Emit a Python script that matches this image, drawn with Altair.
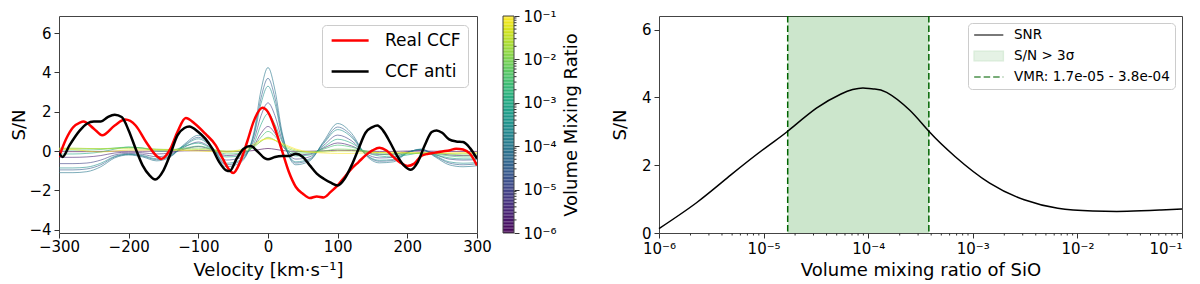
import altair as alt
import numpy as np
import pandas as pd

# ---------------- Left panel data ----------------
grid_v = [-300, -280, -260, -240, -220, -200, -180, -160, -140, -120, -100, -80, -60, -40, -20, -10,
          0, 10, 20, 40, 60, 80, 100, 120, 140, 160, 180, 200, 220, 240, 260, 280, 300]

model_vmr = [1e-6, 3e-6, 1e-5, 3e-5, 1e-4, 3e-4, 1e-3, 3e-3, 1e-2, 3e-2, 1e-1]

sn_1e6 = [-0.03, -0.03, -0.03, -0.02, -0.01, -0.01, -0.01, -0.01, -0.01, 0.01, 0.02, 0.01, -0.02, -0.02, 0.03, 0.09,
          0.13, 0.09, 0.03, -0.02, -0.01, 0.01, 0.04, 0.03, -0.01, -0.02, -0.02, 0.0, 0.0, -0.01, -0.02, -0.02, -0.02]
sn_3e6 = [-0.32, -0.32, -0.3, -0.23, -0.1, -0.06, -0.09, -0.15, -0.09, 0.1, 0.23, 0.06, -0.23, -0.17, 0.29, 0.9,
          1.25, 0.9, 0.29, -0.2, -0.15, 0.15, 0.41, 0.26, -0.06, -0.17, -0.16, -0.03, 0.03, -0.09, -0.2, -0.23, -0.22]
sn_1e5 = [-0.64, -0.64, -0.61, -0.46, -0.2, -0.12, -0.17, -0.29, -0.17, 0.2, 0.46, 0.12, -0.46, -0.35, 0.58, 1.8,
          2.45, 1.8, 0.58, -0.41, -0.29, 0.29, 0.81, 0.52, -0.12, -0.35, -0.32, -0.06, 0.06, -0.17, -0.41, -0.46, -0.44]
sn_3e5 = [-0.96, -0.96, -0.91, -0.7, -0.3, -0.17, -0.26, -0.44, -0.26, 0.3, 0.7, 0.17, -0.7, -0.52, 0.87, 2.7,
          3.7, 2.7, 0.87, -0.61, -0.44, 0.44, 1.22, 0.78, -0.17, -0.52, -0.48, -0.09, 0.09, -0.26, -0.61, -0.7, -0.65]
sn_1e4 = [-1.1, -1.1, -1.05, -0.8, -0.35, -0.2, -0.3, -0.5, -0.3, 0.35, 0.8, 0.2, -0.8, -0.6, 1.0, 3.1,
          4.25, 3.1, 1.0, -0.7, -0.5, 0.5, 1.4, 0.9, -0.2, -0.6, -0.55, -0.1, 0.1, -0.3, -0.7, -0.8, -0.75]
sn_3e4 = [-0.86, -0.86, -0.82, -0.62, -0.27, -0.16, -0.23, -0.39, -0.23, 0.27, 0.62, 0.16, -0.62, -0.47, 0.78, 2.42,
          3.3, 2.42, 0.78, -0.55, -0.39, 0.39, 1.09, 0.7, -0.16, -0.47, -0.43, -0.08, 0.08, -0.23, -0.55, -0.62, -0.59]
sn_1e3 = [-0.15, -0.15, -0.12, -0.05, 0.1, 0.2, 0.15, 0.0, 0.0, 0.25, 0.4, 0.1, -0.3, -0.25, 0.4, 1.35,
          1.9, 1.35, 0.5, -0.25, -0.2, 0.2, 0.6, 0.4, -0.05, -0.25, -0.3, -0.2, -0.1, -0.2, -0.35, -0.4, -0.4]
sn_3e3 = [0.05, 0.05, 0.05, 0.08, 0.15, 0.2, 0.15, 0.05, 0.05, 0.15, 0.25, 0.1, -0.15, -0.12, 0.25, 0.7,
          1.0, 0.75, 0.3, -0.1, -0.1, 0.1, 0.3, 0.2, 0.0, -0.15, -0.2, -0.15, -0.1, -0.15, -0.25, -0.3, -0.3]
sn_1e2 = [0.12, 0.12, 0.12, 0.12, 0.15, 0.18, 0.15, 0.1, 0.08, 0.12, 0.15, 0.08, -0.05, -0.03, 0.2, 0.5,
          0.7, 0.55, 0.3, 0.0, -0.05, 0.0, 0.1, 0.08, 0.0, -0.08, -0.12, -0.12, -0.1, -0.12, -0.15, -0.2, -0.2]
sn_3e2 = [0.15, 0.15, 0.13, 0.12, 0.12, 0.12, 0.1, 0.08, 0.06, 0.06, 0.08, 0.05, 0.0, 0.05, 0.25, 0.5,
          0.65, 0.55, 0.35, 0.05, -0.05, -0.05, 0.0, 0.0, -0.05, -0.08, -0.1, -0.1, -0.1, -0.1, -0.12, -0.12, -0.12]
sn_1e1 = [0.1, 0.08, 0.0, -0.05, 0.0, 0.05, 0.05, 0.05, 0.05, 0.03, 0.0, -0.03, -0.05, 0.05, 0.35, 0.55,
          0.62, 0.55, 0.4, 0.1, -0.05, -0.1, -0.12, -0.12, -0.1, -0.08, -0.06, -0.08, -0.1, -0.1, -0.1, -0.08, -0.08]
model_sn = [sn_1e6, sn_3e6, sn_1e5, sn_3e5, sn_1e4, sn_3e4, sn_1e3, sn_3e3, sn_1e2, sn_3e2, sn_1e1]

real_v = [-300, -290, -280, -270, -265, -250, -238, -220, -205, -190, -175, -160, -153, -140, -130, -118, -105,
          -90, -75, -65, -55, -50, -40, -30, -20, -8, 0, 10, 20, 30, 40, 50, 60, 70, 80, 90, 100, 110, 120,
          130, 140, 150, 160, 170, 180, 190, 200, 210, 220, 230, 240, 250, 260, 270, 280, 290, 300]
real_sn = [-0.3, 0.6, 1.2, 1.45, 1.5, 1.14, 0.8, 1.3, 1.6, 1.3, 0.46, -0.25, -0.4, 0.12, 0.97, 1.68, 1.39,
           0.88, 0.29, -0.39, -0.98, -1.12, -0.56, 0.46, 1.56, 2.2, 1.98, 1.14, 0.03, -1.07, -1.83, -2.17,
           -2.39, -2.31, -2.36, -2.08, -1.75, -1.32, -0.9, -0.56, -0.22, 0.03, 0.17, 0.03, -0.3, -0.59, -0.76,
           -0.64, -0.25, -0.14, -0.08, -0.02, 0.03, 0.12, 0.08, -0.14, -0.73]

anti_v = [-300, -295, -285, -270, -260, -250, -240, -230, -220, -210, -200, -190, -180, -170, -162, -150, -140,
          -130, -120, -113, -100, -90, -80, -70, -60, -55, -45, -35, -25, -15, -5, 0, 10, 20, 30, 40, 50, 60,
          70, 80, 90, 100, 110, 120, 130, 140, 150, 157, 165, 175, 185, 195, 205, 215, 225, 235, 242, 250,
          260, 270, 280, 290, 300]
anti_sn = [-0.1, -0.3, 0.29, 1.05, 1.39, 1.5, 1.5, 1.73, 1.85, 1.73, 1.05, 0.12, -0.73, -1.24, -1.45, -0.98,
           -0.14, 0.8, 1.17, 1.25, 0.97, 0.63, 0.12, -0.56, -0.98, -1.02, -0.39, 0.12, 0.25, -0.02, -0.36,
           -0.42, -0.3, -0.25, -0.25, -0.14, -0.3, -0.73, -1.15, -1.41, -1.61, -1.75, -1.41, -0.73, 0.12, 0.93,
           1.22, 1.3, 1.05, 0.46, -0.22, -0.73, -0.95, -0.56, 0.29, 0.97, 1.05, 0.93, 0.59, 0.49, 0.46, 0.15,
           -0.39]

# ---------------- Right panel data ----------------
snr_vmr = [1.0e-6, 2.3e-6, 4.9e-6, 1.05e-5, 1.7e-5, 3.2e-5, 5.5e-5, 7.1e-5, 8.9e-5, 1.12e-4, 1.5e-4,
           2.5e-4, 3.8e-4, 6.8e-4, 1.45e-3, 3.1e-3, 6.5e-3, 1.4e-2, 3.0e-2, 6.3e-2, 1.0e-1]
snr_val = [0.13, 0.9, 1.72, 2.52, 3.0, 3.68, 4.10, 4.23, 4.28, 4.25, 4.15, 3.62, 3.0, 2.25, 1.47,
           0.98, 0.73, 0.65, 0.64, 0.68, 0.71]
vmr_low, vmr_high = 1.7e-5, 3.8e-4
legend_labels = ["SNR", "S/N > 3σ", "VMR: 1.7e-05 - 3.8e-04"]

decades = [1e-6, 1e-5, 1e-4, 1e-3, 1e-2, 1e-1]
minor = [k * 10.0 ** e for e in range(-6, -1) for k in range(2, 10)]
sup_expr = ("['10⁻⁶','10⁻⁵','10⁻⁴','10⁻³','10⁻²','10⁻¹','10⁰']"
            "[round(log(datum.value)/LN10)+6]")

FONT = "DejaVu Sans"
LW, LH = 418, 217
CB_X0, CB_X1 = 444, 455          # colorbar placed to the right of the left plot
RW = 523
FRAME = "#444"

# ---------------- Left panel ----------------
rows = []
for vmr, vals in zip(model_vmr, model_sn):
    for v, s in zip(grid_v, vals):
        rows.append({"v": v, "s": s, "vmr": vmr, "id": f"{vmr:.0e}"})
model_df = pd.DataFrame(rows)

sn_scale = alt.Scale(domain=[-4.17, 6.87], nice=False, zero=False)
xL = alt.X("v:Q", scale=alt.Scale(domain=[-300, 300], nice=False),
           axis=alt.Axis(values=[-300, -200, -100, 0, 100, 200, 300], title="Velocity [km·s⁻¹]",
                         labelFlush=False, labelPadding=1, titlePadding=7))
yL = alt.Y("s:Q", scale=sn_scale,
           axis=alt.Axis(orient="left", values=[-4, -2, 0, 2, 4, 6], title="S/N", labelPadding=3, titlePadding=0))
yL_noaxis = alt.Y("s:Q", scale=sn_scale, axis=None)

vir = alt.Scale(type="log", scheme="viridis", domain=[1e-6, 1e-1])

models = alt.Chart(model_df).mark_line(strokeWidth=1, opacity=0.6, interpolate="monotone", clip=True).encode(
    x=xL, y=yL,
    color=alt.Color("vmr:Q", scale=vir, legend=None),
    detail="id:N",
)

# legend line symbol: path starting at the symbol's left edge, ~37 px long
ccf_legend = alt.Legend(title=None, orient="top-right", offset=9, symbolType="M-1,0H5.3",
                        symbolStrokeWidth=2.5, symbolSize=138, labelFontSize=17, labelFont=FONT,
                        padding=7, rowPadding=13, labelOffset=39, strokeColor="#cccccc",
                        cornerRadius=4, fillColor="white")
stroke_scale = alt.Scale(domain=["Real CCF", "CCF anti"], range=["red", "black"])

real_df = pd.DataFrame({"v": real_v, "s": real_sn, "series": "Real CCF"})
anti_df = pd.DataFrame({"v": anti_v, "s": anti_sn, "series": "CCF anti"})

real_line = alt.Chart(real_df).mark_line(strokeWidth=2.5, interpolate="monotone", clip=True).encode(
    x=xL, y=yL_noaxis, stroke=alt.Stroke("series:N", scale=stroke_scale, legend=ccf_legend))
anti_line = alt.Chart(anti_df).mark_line(strokeWidth=2.5, interpolate="monotone", clip=True).encode(
    x=xL, y=yL_noaxis, stroke=alt.Stroke("series:N", scale=stroke_scale, legend=ccf_legend))

# colorbar (log-scaled y) drawn beside the left plot
edges = np.logspace(-6, -1, 151)
cb_df = pd.DataFrame({"lo": edges[:-1], "hi": edges[1:], "mid": np.sqrt(edges[:-1] * edges[1:])})
cb_scale = alt.Scale(type="log", domain=[1e-6, 1e-1], nice=False)
cb_rect = alt.Chart(cb_df).mark_rect().encode(
    x=alt.value(CB_X0), x2=alt.value(CB_X1),
    y=alt.Y("lo:Q", scale=cb_scale,
            axis=alt.Axis(orient="right", offset=CB_X1 - LW, values=decades, labelExpr=sup_expr,
                          title="Volume Mixing Ratio", titleAngle=270, titleBaseline="top",
                          labelPadding=4, titlePadding=6)),
    y2="hi:Q",
    color=alt.Color("mid:Q", scale=vir, legend=None),
)
cb_minor_df = pd.DataFrame({"t": minor})
cb_minor = alt.Chart(cb_minor_df).mark_rule(color="#333", strokeWidth=1).encode(
    y=alt.Y("t:Q", scale=cb_scale, axis=None),
    x=alt.value(CB_X1), x2=alt.value(CB_X1 + 2.5),
)
cb_frame = alt.Chart(pd.DataFrame({"k": [0]})).mark_rect(filled=False, stroke=FRAME, strokeWidth=1).encode(
    x=alt.value(CB_X0), x2=alt.value(CB_X1), y=alt.value(0), y2=alt.value(LH),
)

left = alt.layer(models, real_line, anti_line, cb_rect, cb_minor, cb_frame).resolve_scale(
    y="independent").properties(width=LW, height=LH)

# ---------------- Right panel ----------------
xscale = alt.Scale(type="log", domain=[1e-6, 1e-1], nice=False)
xaxis = alt.Axis(orient="bottom", values=decades, labelExpr=sup_expr, title="Volume mixing ratio of SiO",
                 labelFlush=False, labelPadding=3, titlePadding=5,
                 labelAlign={"condition": {"test": "datum.value > 0.05", "value": "right"}, "value": "center"})
xR = alt.X("vmr:Q", scale=xscale, axis=xaxis)
yR = alt.Y("sn:Q", scale=alt.Scale(domain=[0, 6.4], nice=False),
           axis=alt.Axis(values=[0, 2, 4, 6], title="S/N", labelPadding=3, titlePadding=12))

band_df = pd.DataFrame({"lo": [vmr_low], "hi": [vmr_high]})
band = alt.Chart(band_df).mark_rect(color="green", opacity=0.2).encode(
    x=alt.X("lo:Q", scale=xscale, axis=xaxis), x2="hi:Q",
    y=alt.value(0), y2=alt.value(LH))

rule_df = pd.DataFrame({"vmr": [vmr_low, vmr_high]})
rules = alt.Chart(rule_df).mark_rule(color="darkgreen", strokeWidth=1.5, strokeDash=[6.5, 3]).encode(
    x=xR, y=alt.value(0), y2=alt.value(LH))

snr_df = pd.DataFrame({"vmr": snr_vmr, "sn": snr_val})
snr_line = alt.Chart(snr_df).mark_line(color="black", strokeWidth=1.5, interpolate="natural").encode(x=xR, y=yR)

minor_df = pd.DataFrame({"vmr": minor})
minor_ticks = alt.Chart(minor_df).mark_rule(color="#333", strokeWidth=1).encode(
    x=xR, y=alt.value(LH), y2=alt.value(LH + 2.5))

# custom legend symbols: ~29 px long lines / patch, starting at the symbol's left edge
right_legend = alt.Legend(title=None, orient="top-right", offset=7, symbolSize=136, symbolStrokeWidth=1.5,
                          labelFontSize=13.5, labelFont=FONT, padding=5, rowPadding=6, labelOffset=27,
                          strokeColor="#cccccc", cornerRadius=4, fillColor="white")
leg_df = pd.DataFrame({"series": legend_labels, "vmr": [1e-3] * 3, "sn": [-1.0] * 3})
leg_pts = alt.Chart(leg_df).mark_point(clip=True).encode(
    x=xR, y=yR,
    shape=alt.Shape("series:N", scale=alt.Scale(domain=legend_labels,
                                                 range=["M-1,0H4", "M-1,-0.8H4V0.8H-1Z", "M-1,0H4"]),
                    legend=right_legend),
    stroke=alt.Stroke("series:N", scale=alt.Scale(domain=legend_labels,
                                                   range=["black", "#cce6cc", "darkgreen"]),
                      legend=right_legend),
    fill=alt.Fill("series:N", scale=alt.Scale(domain=legend_labels,
                                               range=["transparent", "#cce6cc", "transparent"]),
                  legend=right_legend),
    strokeDash=alt.StrokeDash("series:N", scale=alt.Scale(domain=legend_labels,
                                                           range=[[1, 0], [1, 0], [6.5, 3]]),
                              legend=right_legend),
)

right = alt.layer(band, rules, snr_line, minor_ticks, leg_pts).properties(width=RW, height=LH)

chart = alt.hconcat(left, right, spacing=182, bounds="flush").resolve_scale(
    color="independent", stroke="independent", fill="independent", shape="independent",
    strokeDash="independent",
).resolve_legend(
    color="independent", stroke="independent", fill="independent", shape="independent",
    strokeDash="independent",
).properties(
    padding={"left": 2, "top": 0, "right": 0, "bottom": 0}
).configure_axis(
    labelFont=FONT, titleFont=FONT, labelFontSize=15, titleFontSize=18, titleFontWeight="normal",
    labelColor="black", titleColor="black", tickColor="#333", tickSize=5, grid=False, domain=False,
).configure_view(stroke=FRAME, strokeWidth=1)

chart.save("out.html", embed_options={"renderer": "svg", "actions": False})
